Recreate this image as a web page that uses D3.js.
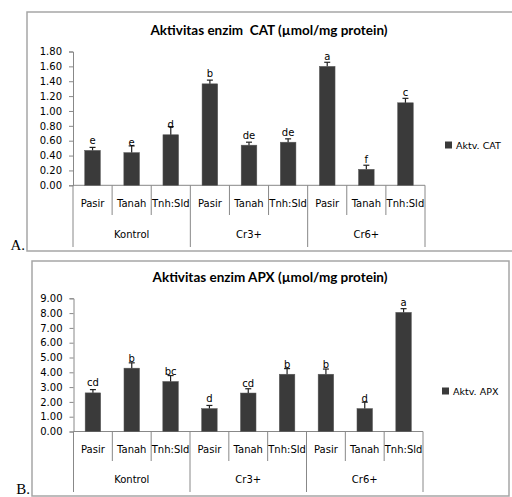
<!DOCTYPE html>
<html>
<head>
<meta charset="utf-8">
<script src="https://cdn.jsdelivr.net/npm/d3@7"></script>
<style>
  body { margin: 0; background: #fff; }
  text { white-space: pre; }
</style>
</head>
<body>
<div class="chart"></div>
<script>
var W = 512, H = 497;

// data
var groups = ["Kontrol", "Cr3+", "Cr6+"];
var media = ["Pasir", "Tanah", "Tnh:Sld"];
var catValues = [0.47, 0.44, 0.68, 1.365, 0.54, 0.58, 1.60, 0.215, 1.11];
var catErr = [0.04, 0.09, 0.11, 0.05, 0.04, 0.045, 0.055, 0.055, 0.06];
var catLetters = ["e", "e", "d", "b", "de", "de", "a", "f", "c"];
var catTicks = [0, 0.2, 0.4, 0.6, 0.8, 1.0, 1.2, 1.4, 1.6, 1.8];
var apxValues = [2.61, 4.28, 3.38, 1.55, 2.6, 3.87, 3.87, 1.55, 8.05];
var apxErr = [0.22, 0.36, 0.4, 0.21, 0.29, 0.38, 0.35, 0.43, 0.25];
var apxLetters = ["cd", "b", "bc", "d", "cd", "b", "b", "d", "a"];
var apxTicks = [0, 1, 2, 3, 4, 5, 6, 7, 8, 9];

var svg = d3.select(".chart")
  .append("svg")
  .attr("width", W)
  .attr("height", H);

svg.append("rect").attr("width", W).attr("height", H).attr("fill", "#fff");

function drawPanel(p) {
  // outer frame
  svg.append("rect")
    .attr("x", p.box[0]).attr("y", p.box[1])
    .attr("width", p.box[2]).attr("height", p.box[3])
    .attr("fill", "none")
    .attr("stroke", "#a6a6a6")
    .attr("stroke-width", 1.5);

  svg.append("text")
    .attr("x", p.box[0] - 2).attr("y", p.labelY)
    .attr("text-anchor", "end")
    .attr("font-family", "Liberation Serif")
    .attr("font-size", "15px")
    .attr("fill", "#000")
    .text(p.panel);

  // category labels repeated per group
  var cats = [];
  groups.forEach(function(g) {
    media.forEach(function(m) { cats.push(m); });
  });
  var idx = d3.range(cats.length);

  var x = d3.scaleBand().domain(idx).range([p.left, p.right]);
  var xBar = d3.scaleBand().domain(idx).range([p.left, p.right])
    .paddingInner(0.6).paddingOuter(0.3);
  var xGroup = d3.scaleBand().domain(groups).range([p.left, p.right]);
  var y = d3.scaleLinear().domain([0, p.max]).range([p.base, p.top]);

  // title
  svg.append("text")
    .attr("x", p.titleX).attr("y", p.titleY)
    .attr("text-anchor", "middle")
    .attr("font-family", "Lato")
    .attr("font-weight", "bold")
    .attr("font-size", "13.5px")
    .attr("fill", "#000")
    .text(p.title);

  // y axis
  var yAxis = d3.axisLeft(y)
    .tickValues(p.ticks)
    .tickFormat(d3.format(".2f"))
    .tickSize(4)
    .tickPadding(7);
  var gy = svg.append("g")
    .attr("transform", "translate(" + p.left + ",0)")
    .call(yAxis);
  gy.select(".domain").attr("stroke", "#888");
  gy.selectAll(".tick line").attr("stroke", "#888");
  gy.selectAll(".tick text")
    .attr("font-family", "DejaVu Sans")
    .attr("font-size", "10px")
    .attr("fill", "#000");

  // x axis baseline
  svg.append("line")
    .attr("x1", p.left).attr("x2", p.right)
    .attr("y1", p.base).attr("y2", p.base)
    .attr("stroke", "#888");

  // separators between categories
  svg.selectAll(null)
    .data(d3.range(cats.length + 1))
    .enter()
    .append("line")
    .attr("x1", function(i) { return i < cats.length ? x(i) : p.right; })
    .attr("x2", function(i) { return i < cats.length ? x(i) : p.right; })
    .attr("y1", p.base)
    .attr("y2", function(i) { return i % 3 == 0 ? p.groupEnd : p.catEnd; })
    .attr("stroke", "#888");

  svg.selectAll(null)
    .data(cats)
    .enter()
    .append("text")
    .text(function(d) { return d; })
    .attr("x", function(d, i) { return x(i) + x.bandwidth() / 2; })
    .attr("y", p.catY)
    .attr("text-anchor", "middle")
    .attr("font-family", "DejaVu Sans")
    .attr("font-size", "10px")
    .attr("fill", "#000");

  svg.selectAll(null)
    .data(groups)
    .enter()
    .append("text")
    .text(function(d) { return d; })
    .attr("x", function(d) { return xGroup(d) + xGroup.bandwidth() / 2; })
    .attr("y", p.groupY)
    .attr("text-anchor", "middle")
    .attr("font-family", "DejaVu Sans")
    .attr("font-size", "10px")
    .attr("fill", "#000");

  // bars
  svg.selectAll(null)
    .data(p.values)
    .enter()
    .append("rect")
    .attr("x", function(d, i) { return xBar(i); })
    .attr("y", function(d) { return y(d); })
    .attr("width", xBar.bandwidth())
    .attr("height", function(d) { return p.base - y(d); })
    .attr("fill", "#3a3a3a")
    .attr("stroke", "#5a5a5a")
    .attr("stroke-width", 0.5);

  // error bars (upper only)
  var eb = svg.selectAll(null)
    .data(p.values)
    .enter()
    .append("g");
  eb.append("line")
    .attr("x1", function(d, i) { return xBar(i) + xBar.bandwidth() / 2; })
    .attr("x2", function(d, i) { return xBar(i) + xBar.bandwidth() / 2; })
    .attr("y1", function(d) { return y(d); })
    .attr("y2", function(d, i) { return y(d + p.err[i]); })
    .attr("stroke", "#222")
    .attr("stroke-width", 1.2);
  eb.append("line")
    .attr("x1", function(d, i) { return xBar(i) + xBar.bandwidth() / 2 - 3; })
    .attr("x2", function(d, i) { return xBar(i) + xBar.bandwidth() / 2 + 3; })
    .attr("y1", function(d, i) { return y(d + p.err[i]); })
    .attr("y2", function(d, i) { return y(d + p.err[i]); })
    .attr("stroke", "#222")
    .attr("stroke-width", 1.2);

  // significance letters
  svg.selectAll(null)
    .data(p.values)
    .enter()
    .append("text")
    .text(function(d, i) { return p.letters[i]; })
    .attr("x", function(d, i) { return xBar(i) + xBar.bandwidth() / 2; })
    .attr("y", function(d) { return y(d) - 6.5; })
    .attr("text-anchor", "middle")
    .attr("font-family", "DejaVu Sans")
    .attr("font-size", "10px")
    .attr("fill", "#000");

  // legend
  svg.append("rect")
    .attr("x", p.legX).attr("y", p.legY - 4)
    .attr("width", 7).attr("height", 7)
    .attr("fill", "#3a3a3a");
  svg.append("text")
    .attr("x", p.legX + 11).attr("y", p.legY + 3.5)
    .attr("font-family", "DejaVu Sans")
    .attr("font-size", "9.5px")
    .attr("fill", "#000")
    .text(p.legend);
}

drawPanel({
  panel: "A.",
  box: [27, 12, 500, 239],
  labelY: 250,
  title: "Aktivitas enzim  CAT (µmol/mg protein)",
  titleX: 269, titleY: 35,
  values: catValues, err: catErr, letters: catLetters,
  ticks: catTicks, max: 1.8,
  left: 73, right: 425, top: 51.5, base: 185.3,
  catY: 207, catEnd: 215, groupY: 238, groupEnd: 247,
  legend: "Aktv. CAT", legX: 445, legY: 145.5
});

drawPanel({
  panel: "B.",
  box: [32, 261, 477, 235],
  labelY: 494,
  title: "Aktivitas enzim APX (µmol/mg protein)",
  titleX: 270, titleY: 282,
  values: apxValues, err: apxErr, letters: apxLetters,
  ticks: apxTicks, max: 9,
  left: 73.5, right: 423, top: 298.3, base: 431.5,
  catY: 453, catEnd: 461, groupY: 483, groupEnd: 492,
  legend: "Aktv. APX", legX: 442, legY: 391.5
});
</script>
</body>
</html>
